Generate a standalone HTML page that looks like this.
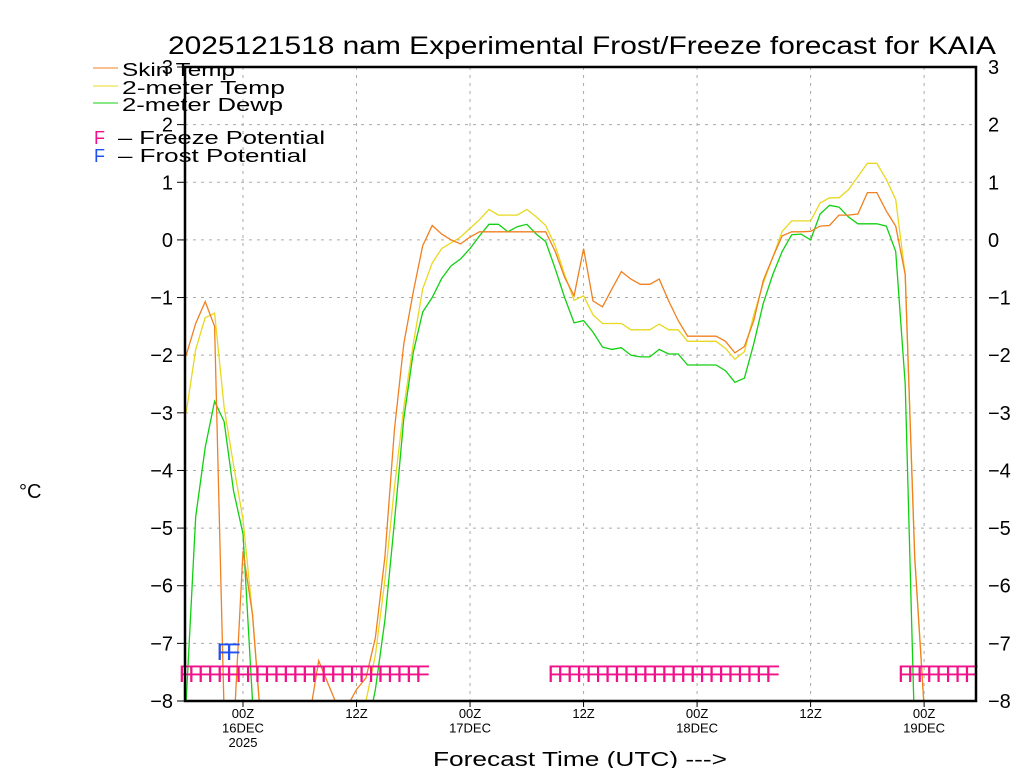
<!DOCTYPE html>
<html><head><meta charset="utf-8"><style>
html,body{margin:0;padding:0;background:#fff;width:1024px;height:768px;overflow:hidden;}
svg{display:block;font-family:"Liberation Sans","DejaVu Sans",sans-serif;overflow:hidden;}
</style></head><body>
<svg id="chart" width="1024" height="768" viewBox="0 0 1024 768" xmlns="http://www.w3.org/2000/svg">
<defs><clipPath id="plotclip"><rect x="185" y="67" width="791" height="634"/></clipPath></defs>
<text x="168" y="54" font-size="25" textLength="828" lengthAdjust="spacingAndGlyphs">2025121518 nam Experimental Frost/Freeze forecast for KAIA</text>
<g id="grid"></g>
<g id="series" clip-path="url(#plotclip)"></g>
<g id="markers"></g>
<g id="axes"></g>
<text x="19" y="498" font-size="20">°C</text>
<text x="433" y="766" font-size="20" textLength="294" lengthAdjust="spacingAndGlyphs">Forecast Time (UTC) ---&gt;</text>
<g>
<line x1="93" y1="68" x2="118" y2="68" stroke="#f08020" stroke-width="1"/>
<text x="122" y="76" font-size="18" textLength="113" lengthAdjust="spacingAndGlyphs">Skin Temp</text>
<line x1="93" y1="86" x2="118" y2="86" stroke="#e8d820" stroke-width="1"/>
<text x="122" y="94" font-size="18" textLength="163" lengthAdjust="spacingAndGlyphs">2-meter Temp</text>
<line x1="93" y1="103" x2="118" y2="103" stroke="#10d010" stroke-width="1"/>
<text x="122" y="111" font-size="18" textLength="161" lengthAdjust="spacingAndGlyphs">2-meter Dewp</text>
<text x="94" y="144" font-size="18" fill="#f0108a">F</text>
<text x="118" y="144" font-size="18" textLength="207" lengthAdjust="spacingAndGlyphs">– Freeze Potential</text>
<text x="94" y="162" font-size="18" fill="#2050f0">F</text>
<text x="118" y="162" font-size="18" textLength="189" lengthAdjust="spacingAndGlyphs">– Frost Potential</text>
</g>
</svg>
<script>
const hours = [];
for (let h = -6; h <= 79; h++) hours.push(h);
const skinTemp = [-2.0,-1.45,-1.07,-1.5,-8.2,-12,-5.4,-6.5,-9,-10,-10,-10,-10,-8.3,-7.3,-7.7,-8.1,-8.1,-7.8,-7.6,-6.9,-5.5,-3.3,-1.8,-0.9,-0.1,0.25,0.1,0.0,-0.07,0.05,0.14,0.14,0.14,0.14,0.14,0.14,0.14,0.14,-0.2,-0.65,-0.97,-0.15,-1.06,-1.16,-0.85,-0.55,-0.68,-0.77,-0.77,-0.68,-1.06,-1.4,-1.67,-1.67,-1.67,-1.67,-1.76,-1.96,-1.85,-1.4,-0.7,-0.3,0.07,0.14,0.14,0.15,0.24,0.25,0.43,0.43,0.45,0.82,0.82,0.5,0.24,-0.6,-5.5,-8.1,-9,-10,-10,-10,-10,-10,-10];
const airTemp = [-3.0,-1.9,-1.35,-1.27,-2.9,-3.9,-4.85,-6.5,-9,-10,-10,-10,-10,-10,-10,-10,-10,-10,-9,-8.0,-7.2,-5.9,-4.3,-2.9,-1.8,-0.85,-0.4,-0.15,-0.05,0.05,0.2,0.35,0.53,0.43,0.43,0.43,0.53,0.4,0.25,-0.1,-0.6,-1.05,-0.97,-1.3,-1.45,-1.45,-1.45,-1.56,-1.56,-1.56,-1.46,-1.56,-1.56,-1.76,-1.76,-1.76,-1.76,-1.88,-2.07,-1.94,-1.3,-0.75,-0.3,0.15,0.33,0.33,0.33,0.64,0.73,0.73,0.87,1.1,1.33,1.33,1.05,0.7,-0.6,-5.5,-8.1,-9,-10,-10,-10,-10,-10,-10];
const dewPoint = [-8.0,-4.8,-3.6,-2.8,-3.15,-4.35,-5.1,-8.0,-10,-10,-10,-10,-10,-10,-10,-10,-10,-10,-10,-9,-7.8,-6.6,-4.9,-3.1,-1.95,-1.25,-1.0,-0.67,-0.45,-0.33,-0.15,0.07,0.27,0.27,0.14,0.23,0.27,0.1,-0.03,-0.5,-1.0,-1.44,-1.4,-1.6,-1.86,-1.9,-1.87,-2.0,-2.03,-2.03,-1.9,-1.98,-1.98,-2.17,-2.17,-2.17,-2.17,-2.27,-2.47,-2.4,-1.8,-1.1,-0.6,-0.2,0.09,0.1,0.0,0.45,0.6,0.57,0.4,0.28,0.28,0.28,0.24,-0.2,-2.5,-8.6,-10,-10,-10,-10,-10,-10,-10,-10];
const freezeHours = [-6,-5,-4,-3,-2,-1,0,1,2,3,4,5,6,7,8,9,10,11,12,13,14,15,16,17,18,19,33,34,35,36,37,38,39,40,41,42,43,44,45,46,47,48,49,50,51,52,53,54,55,56,70,71,72,73,74,75,76,77];
const frostHours = [-2,-1];
const yTicks = [3,2,1,0,-1,-2,-3,-4,-5,-6,-7,-8];
const xTickHours = [0,12,24,36,48,60,72];
const xTickLabels = [["00Z","16DEC","2025"],["12Z"],["00Z","17DEC"],["12Z"],["00Z","18DEC"],["12Z"],["00Z","19DEC"]];

const NS = "http://www.w3.org/2000/svg";
const X0 = 185, X1 = 976, Y0 = 67, Y1 = 701;
function xScale(h){ return 243 + h * 9.46; }
function yScale(v){ return Y1 - (v + 8) / 11 * (Y1 - Y0); }
function mk(tag, attrs, parent){ const e = document.createElementNS(NS, tag); for (const k in attrs) e.setAttribute(k, attrs[k]); parent.appendChild(e); return e; }

const grid = document.getElementById('grid');
const axes = document.getElementById('axes');
yTicks.forEach(v => {
  const y = yScale(v);
  if (v !== 3 && v !== -8) {
    const g = mk('line', {x1:X0, x2:X1, y1:y, y2:y, stroke:'#aaa', 'stroke-width':1, 'stroke-dasharray':'3,5'}, grid);
    
    
  }
  const tl = mk('line', {x1:X0-8, x2:X0, y1:y, y2:y, stroke:'#000', 'stroke-width':1}, axes);
  
  
  const t = mk('text', {x:X0-12, y:y+7, 'font-size':20, 'text-anchor':'end'}, axes);
  t.textContent = v < 0 ? '\u2212' + Math.abs(v) : String(v);
  
  
  const tr = mk('text', {x:988, y:y+7, 'font-size':20}, axes);
  tr.textContent = v < 0 ? '\u2212' + Math.abs(v) : String(v);
  
  
});
xTickHours.forEach((h, i) => {
  const x = xScale(h);
  const g = mk('line', {x1:x, x2:x, y1:Y0, y2:Y1, stroke:'#aaa', 'stroke-width':1, 'stroke-dasharray':'3,5'}, grid);
  
  
  const tk = mk('line', {x1:x, x2:x, y1:Y1, y2:Y1+6, stroke:'#000', 'stroke-width':1}, axes);
  
  
  xTickLabels[i].forEach((s, j) => {
    const t = mk('text', {x:x, y:718 + j*14.5, 'font-size':13, 'text-anchor':'middle'}, axes);
    t.textContent = s;
    
    
  });
});
const frame = mk('rect', {x:X0, y:Y0, width:X1-X0, height:Y1-Y0, fill:'none', stroke:'#000', 'stroke-width':2.5}, axes);



const series = document.getElementById('series');
function drawSeries(vals, color, name){
  const pts = vals.map((v, i) => xScale(hours[i]).toFixed(1) + ',' + yScale(Math.max(v, -8.6)).toFixed(1)).join(' ');
  const p = mk('polyline', {points:pts, fill:'none', stroke:color, 'stroke-width':1.3}, series);
  
  
}
drawSeries(dewPoint, '#10d010', 'dewpoint-line');
drawSeries(airTemp, '#e8d820', 'air-temp-line');
drawSeries(skinTemp, '#f08020', 'skin-temp-line');

const markers = document.getElementById('markers');
function drawF(hrs, color, yBase, name){
  hrs.forEach((h) => {
    const sx = xScale(h) - 6;
    const t = mk('text', {x:sx-1.5, y:yBase, 'font-size':24, fill:color}, markers);
    t.textContent = 'F';
    
    
  });
}
drawF(freezeHours, '#f0108a', 682, 'freeze-marker');
drawF(frostHours, '#2050f0', 660, 'frost-marker');
</script>
</body></html>
